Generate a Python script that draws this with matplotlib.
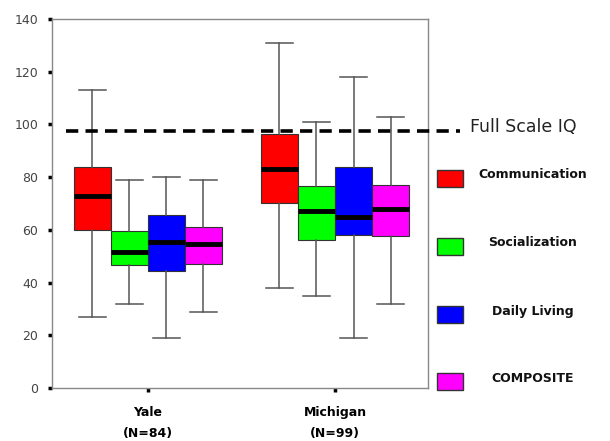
import matplotlib.pyplot as plt
from matplotlib.patches import Rectangle

# ============================================================
# Data
# ============================================================
groups = ["Yale\n(N=84)", "Michigan\n(N=99)"]
domains = ["Communication", "Socialization", "Daily Living", "COMPOSITE"]
colors = ["#ff0000", "#00ff00", "#0000ff", "#ff00ff"]

# one row per group, one value per domain
whislo = [[27, 32, 19, 29], [38, 35, 19, 32]]
q1 = [[60, 46.5, 44.5, 47], [70, 56, 58, 57.5]]
med = [[73, 51.5, 55.5, 54.5], [83, 67, 65, 68]]
q3 = [[84, 59.5, 65.5, 61], [96.5, 76.5, 84, 77]]
whishi = [[113, 79, 80, 79], [131, 101, 118, 103]]

full_scale_iq = 97.5

# ============================================================
# Plot
# ============================================================
fig = plt.figure(figsize=(6.1, 4.41), dpi=100)
ax = fig.add_axes([0.0852, 0.1202, 0.6164, 0.8367])

width = 0.198
offsets = [-1.5 * width, -0.5 * width, 0.5 * width, 1.5 * width]

for g in range(len(groups)):
    for d in range(len(domains)):
        stats = [dict(whislo=whislo[g][d], q1=q1[g][d], med=med[g][d],
                      q3=q3[g][d], whishi=whishi[g][d], fliers=[])]
        ax.bxp(stats, positions=[g + 1 + offsets[d]], widths=width,
               capwidths=0.145, patch_artist=True, showfliers=False,
               boxprops=dict(facecolor=colors[d], edgecolor="#333333", linewidth=0.8),
               medianprops=dict(color="black", linewidth=3.5, solid_capstyle="butt"),
               whiskerprops=dict(color="#555555", linewidth=1.1),
               capprops=dict(color="#555555", linewidth=1.1),
               zorder=3)

# Full scale IQ reference line, runs past the axes
ax.plot([0.56, 2.67], [full_scale_iq, full_scale_iq], color="black",
        linestyle=(0, (3.4, 2.0)), linewidth=2.6, clip_on=False, zorder=4)
ax.text(2.72, full_scale_iq + 1.5, "Full Scale IQ", fontsize=12.5,
        va="center", ha="left", color="#222222")

ax.set_xlim(0.487, 2.497)
ax.set_ylim(0, 140)
ax.set_yticks(range(0, 141, 20))
ax.set_xticks([1, 2])
ax.set_xticklabels(groups, fontsize=9, fontweight="bold", linespacing=1.75)
ax.tick_params(axis="y", labelsize=9, labelcolor="#444444", length=3,
               width=2.5, color="black", pad=7)
ax.tick_params(axis="x", length=3, width=2.5, color="black", pad=10)
for s in ax.spines.values():
    s.set_color("#888888")
    s.set_linewidth(1.0)

# Legend drawn as patches with centred labels
leg_y = [178, 246, 314, 381]
for lbl, c, yp in zip(domains, colors, leg_y):
    fig.patches.append(Rectangle((437 / 610, 1 - (yp + 8.5) / 441), 26 / 610, 17 / 441,
                                 transform=fig.transFigure, facecolor=c,
                                 edgecolor="#333333", linewidth=1.0))
    fig.text(533 / 610, 1 - (yp - 3) / 441, lbl, fontsize=9, fontweight="bold",
             ha="center", va="center", color="#111111")

fig.savefig("out.png", dpi=100)
